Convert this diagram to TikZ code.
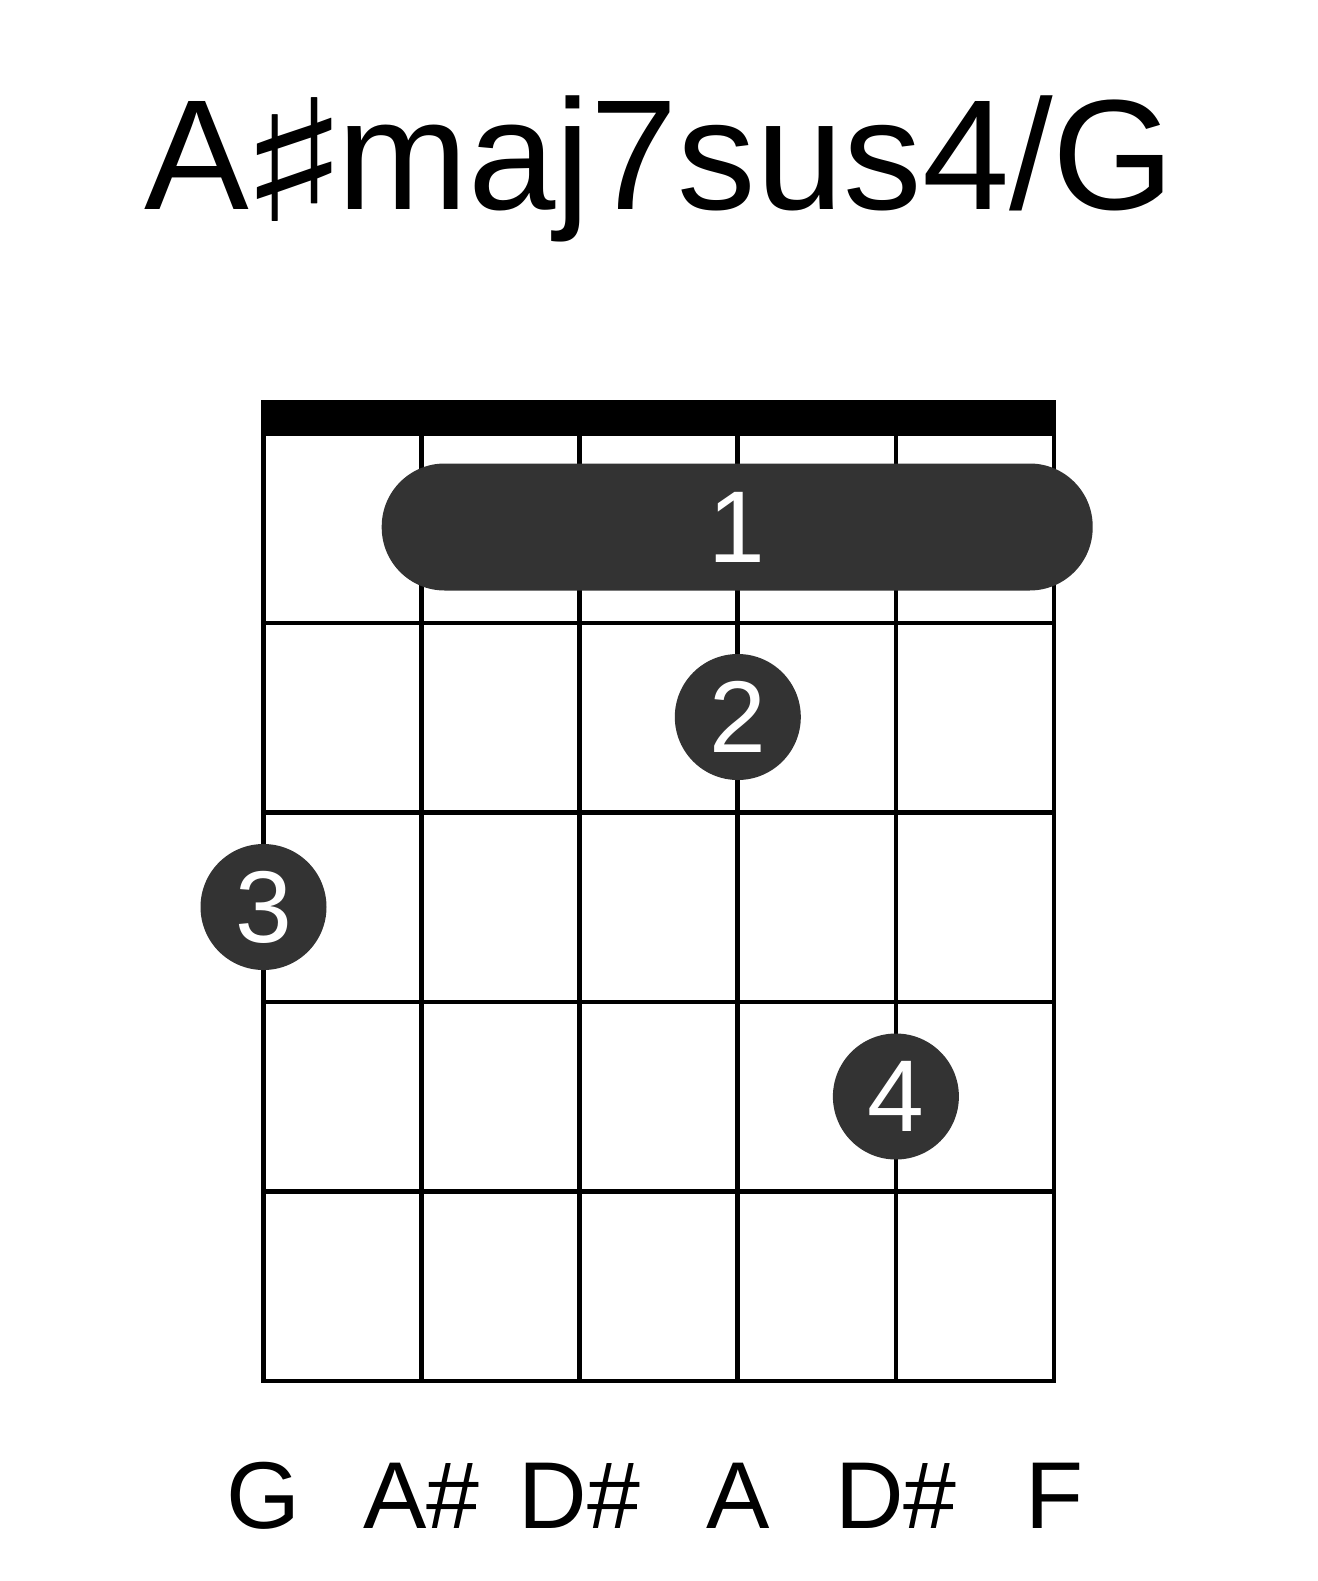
\documentclass[tikz,border=0pt]{standalone}
\usepackage{fontspec}
\setmainfont{Liberation Sans}
\newfontfamily\symfont{DejaVu Sans}
\definecolor{dot}{HTML}{333333}
\begin{document}
\begin{tikzpicture}[x=1pt,y=-1pt,
  gridline/.style={line width=4.7pt},
  finger/.style={circle,fill=dot,minimum size=126pt,inner sep=0pt,text=white,font=\fontsize{102}{102}\selectfont},
  barrestyle/.style={rectangle,rounded corners=63pt,fill=dot,minimum width=711pt,minimum height=127pt,inner sep=0pt,text=white,font=\fontsize{102}{102}\selectfont},
  notelabel/.style={anchor=base,inner sep=0pt,font=\fontsize{95}{95}\selectfont},
  titlestyle/.style={anchor=base,inner sep=0pt,font=\fontsize{157}{157}\selectfont}]
\useasboundingbox (0,0) rectangle (1317,1581);
% title
\node[titlestyle] (title) at (660,209) {A\kern-12pt\raisebox{-13pt}{\scalebox{1.5}[1.08]{\symfont ♯}}\kern-14pt maj7sus4/G};
% grid
\draw[gridline] (263.5,433.5) rectangle (1054,1381);
\foreach \x in {421.6,579.7,737.8,895.9}
  \draw[gridline] (\x,433.5) -- (\x,1381);
\foreach \y in {623,812.5,1002,1191.5}
  \draw[gridline] (263.5,\y) -- (1054,\y);
% nut
\fill (261.15,400) rectangle (1056.35,433.5);
% barre and fingers
\node[barrestyle] (barre) at (737.2,527) {1};
\node[finger] (f2) at (737.8,717) {2};
\node[finger] (f3) at (263.5,907) {3};
\node[finger] (f4) at (895.9,1096.5) {4};
% string notes
\node[notelabel] (n1) at (263.5,1528) {G};
\node[notelabel] (n2) at (421.6,1528) {A\#};
\node[notelabel] (n3) at (579.7,1528) {D\#};
\node[notelabel] (n4) at (737.8,1528) {A};
\node[notelabel] (n5) at (895.9,1528) {D\#};
\node[notelabel] (n6) at (1054,1528) {F};
\end{tikzpicture}
\end{document}
